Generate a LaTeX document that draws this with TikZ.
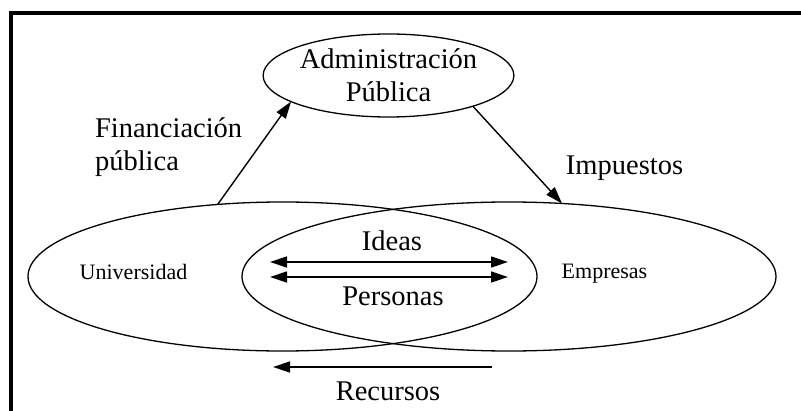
\documentclass[tikz,border=0pt]{standalone}
\usepackage{fontspec}
\setmainfont{Liberation Serif}
\usetikzlibrary{arrows.meta,shapes.geometric}
\begin{document}
\begin{tikzpicture}[x=0.5pt,y=-0.5pt,
  every node/.style={inner sep=0pt,outer sep=0pt},
  oval/.style={draw,ellipse,line width=0.65pt},
  big/.style={font=\fontsize{14.25}{16.5}\selectfont},
  little/.style={font=\fontsize{11}{13}\selectfont},
  flow/.style={line width=0.7pt,-{Triangle[length=8.5pt,width=5.5pt]}},
  twoway/.style={line width=0.7pt,{Triangle[length=8.5pt,width=5.5pt]}-{Triangle[length=8.5pt,width=5.5pt]}}]
\useasboundingbox (0,0) rectangle (801,411);

% frame
\draw [line width=2pt] (8.5,13) -- (801,13);
\draw [line width=2pt] (10.5,12) -- (10.5,411);

% ellipses
\node [oval,big,align=center,minimum width=119.5pt,minimum height=41.5pt] (admin) at (388.5,75.5) {Administración\\Pública};
\node [oval,minimum width=254.5pt,minimum height=74.5pt] (univ) at (282.5,276.5) {};
\node [oval,minimum width=267pt,minimum height=74.5pt] (emp) at (509,276.5) {};

% labels
\node [little,anchor=base] (univtext) at (133.5,279) {Universidad};
\node [little,anchor=base] (emptext) at (604.5,278) {Empresas};
\node [big,anchor=base] (ideas) at (392,250) {Ideas};
\node [big,anchor=base] (pers) at (393,305) {Personas};
\node [big,anchor=base] (recur) at (388,400) {Recursos};
\node [big,anchor=base west] (finan) at (95,138) {Financiación};
\node [big,anchor=base west] (finanb) at (95,170) {pública};
\node [big,anchor=base] (imp) at (624.5,175) {Impuestos};

% arrows
\coordinate (ia) at (270,262);
\coordinate (ib) at (508,262);
\coordinate (pa) at (270,277);
\coordinate (pb) at (508,277);
\coordinate (ra) at (492,367);
\coordinate (rb) at (273,367);
\draw [flow] (univ.132.6) -- (admin.195.7);
\draw [flow] (admin.340.8) -- (emp.54.6);
\draw [twoway] (ia) -- (ib);
\draw [twoway] (pa) -- (pb);
\draw [flow] (ra) -- (rb);
\end{tikzpicture}
\end{document}
